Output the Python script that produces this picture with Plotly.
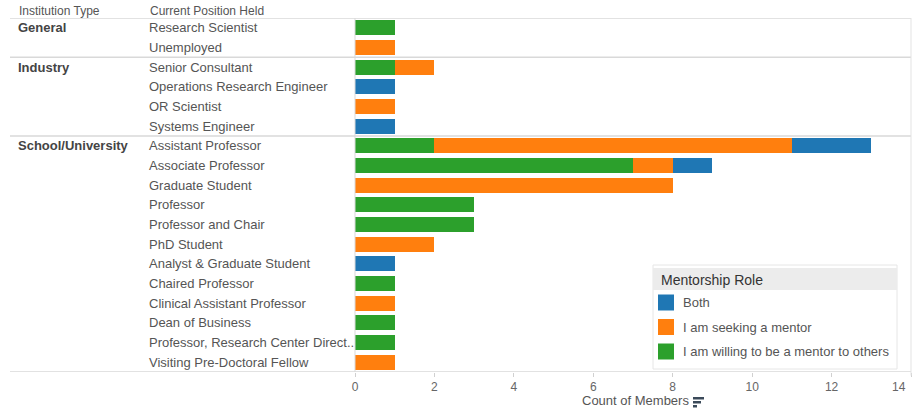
import plotly.graph_objects as go

groups = ["General", "Industry", "School/University"]
group_sizes = [2, 4, 12]
positions = [
    "Research Scientist", "Unemployed",
    "Senior Consultant", "Operations Research Engineer", "OR Scientist", "Systems Engineer",
    "Assistant Professor", "Associate Professor", "Graduate Student", "Professor",
    "Professor and Chair", "PhD Student", "Analyst & Graduate Student", "Chaired Professor",
    "Clinical Assistant Professor", "Dean of Business", "Professor, Research Center Direct..",
    "Visiting Pre-Doctoral Fellow",
]
willing = [1, 0, 1, 0, 0, 0, 2, 7, 0, 3, 3, 0, 0, 1, 0, 1, 1, 0]
seeking = [0, 1, 1, 0, 1, 0, 9, 1, 8, 0, 0, 2, 0, 0, 1, 0, 0, 1]
both = [0, 0, 0, 1, 0, 1, 2, 1, 0, 0, 0, 0, 1, 0, 0, 0, 0, 0]
series_names = ["Both", "I am seeking a mentor", "I am willing to be a mentor to others"]
colors = {"Both": "#1f77b4", "I am seeking a mentor": "#ff7f0e",
          "I am willing to be a mentor to others": "#2ca02c"}
x_ticks = [0, 2, 4, 6, 8, 10, 12, 14]

FONT = "Liberation Sans, Arial, sans-serif"

fig = go.Figure()
for name, vals in [("I am willing to be a mentor to others", willing),
                   ("I am seeking a mentor", seeking), ("Both", both)]:
    fig.add_trace(go.Bar(
        y=positions, x=vals, orientation="h", name=name,
        marker=dict(color=colors[name], line=dict(width=0)),
        showlegend=False,
    ))

n = len(positions)
# plot geometry
L, R, T, B = 355, 3, 18, 36
W, H = 914, 408
pw = W - L - R
ph = H - T - B

def px_x(p):
    return (p - L) / pw

def px_y(p):
    return (H - B - p) / ph

annotations = []
shapes = []

# header
for txt, xp in [("Institution Type", 17), ("Current Position Held", 148)]:
    annotations.append(dict(text=txt, x=px_x(xp), y=px_y(11), xref="paper", yref="paper",
                            xanchor="left", yanchor="middle", showarrow=False,
                            font=dict(family=FONT, size=12, color="#555555")))

# row labels
for i, p in enumerate(positions):
    annotations.append(dict(text=p, x=px_x(147), y=p, xref="paper", yref="y",
                            xanchor="left", yanchor="middle", showarrow=False,
                            font=dict(family=FONT, size=13, color="#555555")))

start = 0
for g, s in zip(groups, group_sizes):
    annotations.append(dict(text="<b>%s</b>" % g, x=px_x(16), y=positions[start], xref="paper", yref="y",
                            xanchor="left", yanchor="middle", showarrow=False,
                            font=dict(family=FONT, size=13, color="#444444")))
    shapes.append(dict(type="line", xref="paper", yref="y", x0=px_x(10), x1=1,
                       y0=start + s - 0.5, y1=start + s - 0.5,
                       line=dict(color="#d9d9d9", width=1.5)))
    start += s

# header separator line
shapes.append(dict(type="line", xref="paper", yref="y", x0=px_x(10), x1=1, y0=-0.5, y1=-0.5,
                   line=dict(color="#d9d9d9", width=1.5)))
# zero line and right border
shapes.append(dict(type="line", xref="paper", yref="paper", x0=0, x1=0, y0=0, y1=1,
                   line=dict(color="#d9d9d9", width=1)))
shapes.append(dict(type="line", xref="paper", yref="paper", x0=1, x1=1, y0=-0.01, y1=1,
                   line=dict(color="#e3e3e3", width=1)))

# last tick label (kept inside the page)
annotations.append(dict(text=str(x_ticks[-1]), x=x_ticks[-1], y=px_y(386.5), xref="x", yref="paper",
                        xanchor="right", yanchor="middle", xshift=-3, showarrow=False,
                        font=dict(family=FONT, size=12, color="#666666")))

# axis title and sort icon
annotations.append(dict(text="Count of Members", x=px_x(580), y=px_y(400), xref="paper", yref="paper",
                        xanchor="left", yanchor="middle", showarrow=False,
                        font=dict(family=FONT, size=13, color="#555555")))
for k, wbar in enumerate([11, 8, 4]):
    y0 = 397 + k * 4
    shapes.append(dict(type="rect", xref="paper", yref="paper",
                       x0=px_x(693), x1=px_x(693 + wbar), y0=px_y(y0), y1=px_y(y0 + 2.5),
                       fillcolor="#3b4a5a", line=dict(width=0)))

# custom legend
lx0, lx1 = 653, 897
shapes.append(dict(type="rect", xref="paper", yref="paper", x0=px_x(lx0), x1=px_x(lx1),
                   y0=px_y(265), y1=px_y(369), fillcolor="white", line=dict(color="#e6e6e6", width=1),
                   layer="above"))
shapes.append(dict(type="rect", xref="paper", yref="paper", x0=px_x(lx0), x1=px_x(lx1),
                   y0=px_y(268), y1=px_y(290), fillcolor="#ececec", line=dict(width=0),
                   layer="above"))
annotations.append(dict(text="Mentorship Role", x=px_x(659), y=px_y(279.5), xref="paper", yref="paper",
                        xanchor="left", yanchor="middle", showarrow=False,
                        font=dict(family=FONT, size=14, color="#333333")))
for k, name in enumerate(series_names):
    yc = 302.5 + k * 24.5
    shapes.append(dict(type="rect", xref="paper", yref="paper", x0=px_x(658), x1=px_x(674),
                       y0=px_y(yc - 8), y1=px_y(yc + 8), fillcolor=colors[name],
                       line=dict(width=0), layer="above"))
    annotations.append(dict(text=name, x=px_x(681), y=px_y(yc), xref="paper", yref="paper",
                            xanchor="left", yanchor="middle", showarrow=False,
                            font=dict(family=FONT, size=13, color="#555555")))

fig.update_layout(
    width=W, height=H,
    margin=dict(l=L, r=R, t=T, b=B, pad=0),
    paper_bgcolor="white", plot_bgcolor="white",
    barmode="stack", bargap=0.25,
    font=dict(family=FONT, size=12, color="#555555"),
    xaxis=dict(range=[0, 14], tickvals=x_ticks,
               ticktext=[str(v) for v in x_ticks[:-1]] + [""],
               showgrid=False, zeroline=False, showline=False,
               ticks="outside", ticklen=4, tickcolor="#d0d0d0",
               tickfont=dict(family=FONT, size=12, color="#666666"), fixedrange=True),
    yaxis=dict(categoryorder="array", categoryarray=positions, range=[n - 0.5, -0.5],
               showticklabels=False, showgrid=False, zeroline=False, showline=False, ticks=""),
    annotations=annotations,
    shapes=shapes,
)

fig.write_html("out.html", config={"displayModeBar": False},
               post_script="document.body.style.margin='0';document.body.style.overflow='hidden';")
